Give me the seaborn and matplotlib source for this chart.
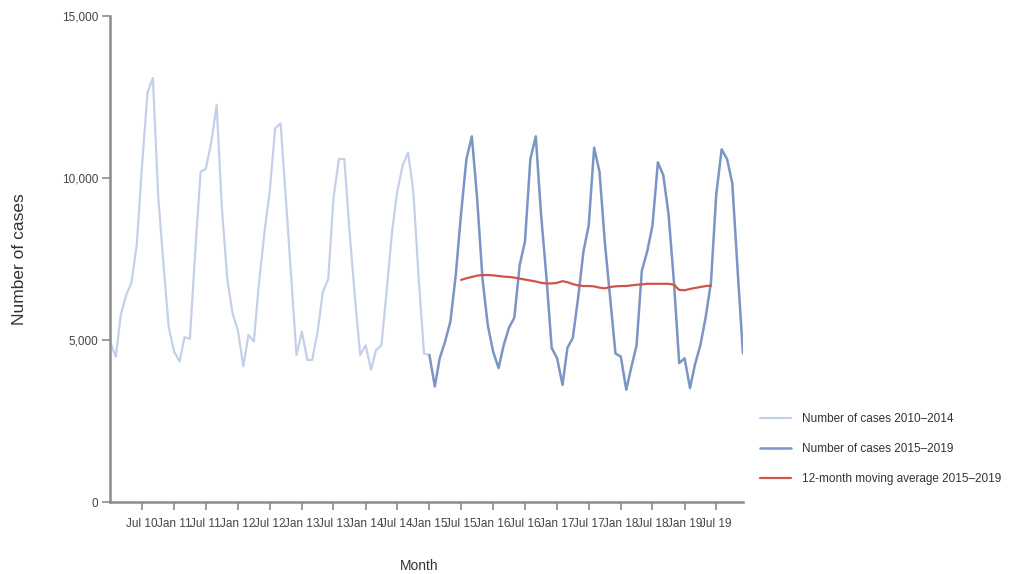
import numpy as np
import pandas as pd
import matplotlib
matplotlib.use("Agg")
import matplotlib.pyplot as plt
import seaborn as sns

# ---------------- data ----------------
# Monthly case counts, Jan 2010 .. Jan 2015 (light series, joins the dark one)
cases_2010_2014 = [
    4920, 4500, 5790, 6400, 6780, 7950, 10400, 12650, 13100, 9500, 7330, 5400,
    4650, 4350, 5100, 5050, 7700, 10200, 10300, 11100, 12270, 9100, 6900, 5850,
    5300, 4200, 5170, 4970, 6800, 8350, 9600, 11550, 11700, 9400, 6950, 4550,
    5270, 4400, 4400, 5270, 6500, 6900, 9400, 10600, 10600, 8350, 6300, 4550,
    4850, 4100, 4700, 4850, 6500, 8350, 9600, 10400, 10800, 9600, 6900, 4600,
    4550,
]
# Monthly case counts, Jan 2015 .. Dec 2019
cases_2015_2019 = [
    4550, 3580, 4450, 4970, 5580, 7020, 8900, 10600, 11300, 9400, 6900, 5480,
    4650, 4150, 4850, 5400, 5700, 7330, 8050, 10600, 11300, 8900, 6950, 4770,
    4450, 3630, 4770, 5080, 6300, 7750, 8550, 10950, 10200, 8050, 6300, 4600,
    4500, 3480, 4150, 4850, 7150, 7750, 8550, 10500, 10100, 8900, 6800, 4300,
    4450, 3530, 4250, 4850, 5700, 6800, 9500, 10900, 10600, 9850, 7120, 4600,
]
# 12-month moving average, Jul 2015 .. Jun 2019
moving_avg_2015_2019 = [
    6870, 6920, 6960, 7000, 7020, 7020, 7010, 6990, 6970, 6960, 6940, 6910,
    6880, 6850, 6820, 6780, 6760, 6760, 6780, 6830, 6800, 6740, 6700, 6680,
    6680, 6670, 6630, 6610, 6650, 6670, 6680, 6680, 6700, 6720, 6730, 6750,
    6750, 6750, 6750, 6750, 6720, 6560, 6550, 6590, 6620, 6650, 6680, 6690,
]
tick_labels = [
    "Jul 10", "Jan 11", "Jul 11", "Jan 12", "Jul 12", "Jan 13", "Jul 13",
    "Jan 14", "Jul 14", "Jan 15", "Jul 15", "Jan 16", "Jul 16", "Jan 17",
    "Jul 17", "Jan 18", "Jul 18", "Jan 19", "Jul 19",
]
y_ticks = [0, 5000, 10000, 15000]
y_tick_labels = ["0", "5,000", "10,000", "15,000"]
legend_labels = [
    "Number of cases 2010\u20132014",
    "Number of cases 2015\u20132019",
    "12-month moving average 2015\u20132019",
]

dates_a = pd.date_range("2010-01-01", periods=len(cases_2010_2014), freq="MS")
dates_b = pd.date_range("2015-01-01", periods=len(cases_2015_2019), freq="MS")
dates_m = pd.date_range("2015-07-01", periods=len(moving_avg_2015_2019), freq="MS")
tick_dates = pd.date_range("2010-07-01", periods=len(tick_labels), freq="6MS")

df_a = pd.DataFrame({"month": dates_a, "cases": cases_2010_2014})
df_b = pd.DataFrame({"month": dates_b, "cases": cases_2015_2019})
df_m = pd.DataFrame({"month": dates_m, "cases": moving_avg_2015_2019})

# ---------------- style ----------------
sns.set_theme(style="ticks")
plt.rcParams["font.family"] = ["Liberation Sans", "DejaVu Sans"]

fig = plt.figure(figsize=(10.14, 5.74), dpi=100)
ax = fig.add_axes([0.1089, 0.1246, 0.6238, 0.8467])

c_light = "#c4d0e9"
c_dark = "#7b95c4"
c_red = "#cc5550"

sns.lineplot(data=df_a, x="month", y="cases", ax=ax, color=c_light,
             linewidth=1.6, label=legend_labels[0])
sns.lineplot(data=df_b, x="month", y="cases", ax=ax, color=c_dark,
             linewidth=1.8, label=legend_labels[1])
sns.lineplot(data=df_m, x="month", y="cases", ax=ax, color=c_red,
             linewidth=1.6, label=legend_labels[2])

ax.set_xlim(pd.Timestamp("2010-01-01"), pd.Timestamp("2019-12-01"))
ax.set_ylim(0, 15000)
ax.set_xticks(tick_dates)
ax.set_xticklabels(tick_labels)
ax.set_yticks(y_ticks)
ax.set_yticklabels(y_tick_labels)

sns.despine(ax=ax)
for s in ("left", "bottom"):
    ax.spines[s].set_color("#8c8c8c")
    ax.spines[s].set_linewidth(1.8)

ax.tick_params(axis="both", colors="#8c8c8c", labelcolor="#444444",
               length=6, width=1.2, labelsize=8.5)
ax.tick_params(axis="x", pad=5)
ax.tick_params(axis="y", pad=3)

ax.set_xlabel("Month", fontsize=10, color="#333333")
ax.set_ylabel("Number of cases", fontsize=12.5, color="#333333")
ax.xaxis.set_label_coords(0.488, -0.116)
ax.yaxis.set_label_coords(-0.132, 0.5)

ax.legend(loc="upper left", bbox_to_anchor=(0.7495, 0.2810),
          bbox_transform=fig.transFigure, frameon=False, fontsize=8.5,
          handlelength=2.6, handletextpad=1.0, labelspacing=1.55,
          borderpad=0, borderaxespad=0, labelcolor="#333333")

fig.savefig("out.png", dpi=100, facecolor="white")
